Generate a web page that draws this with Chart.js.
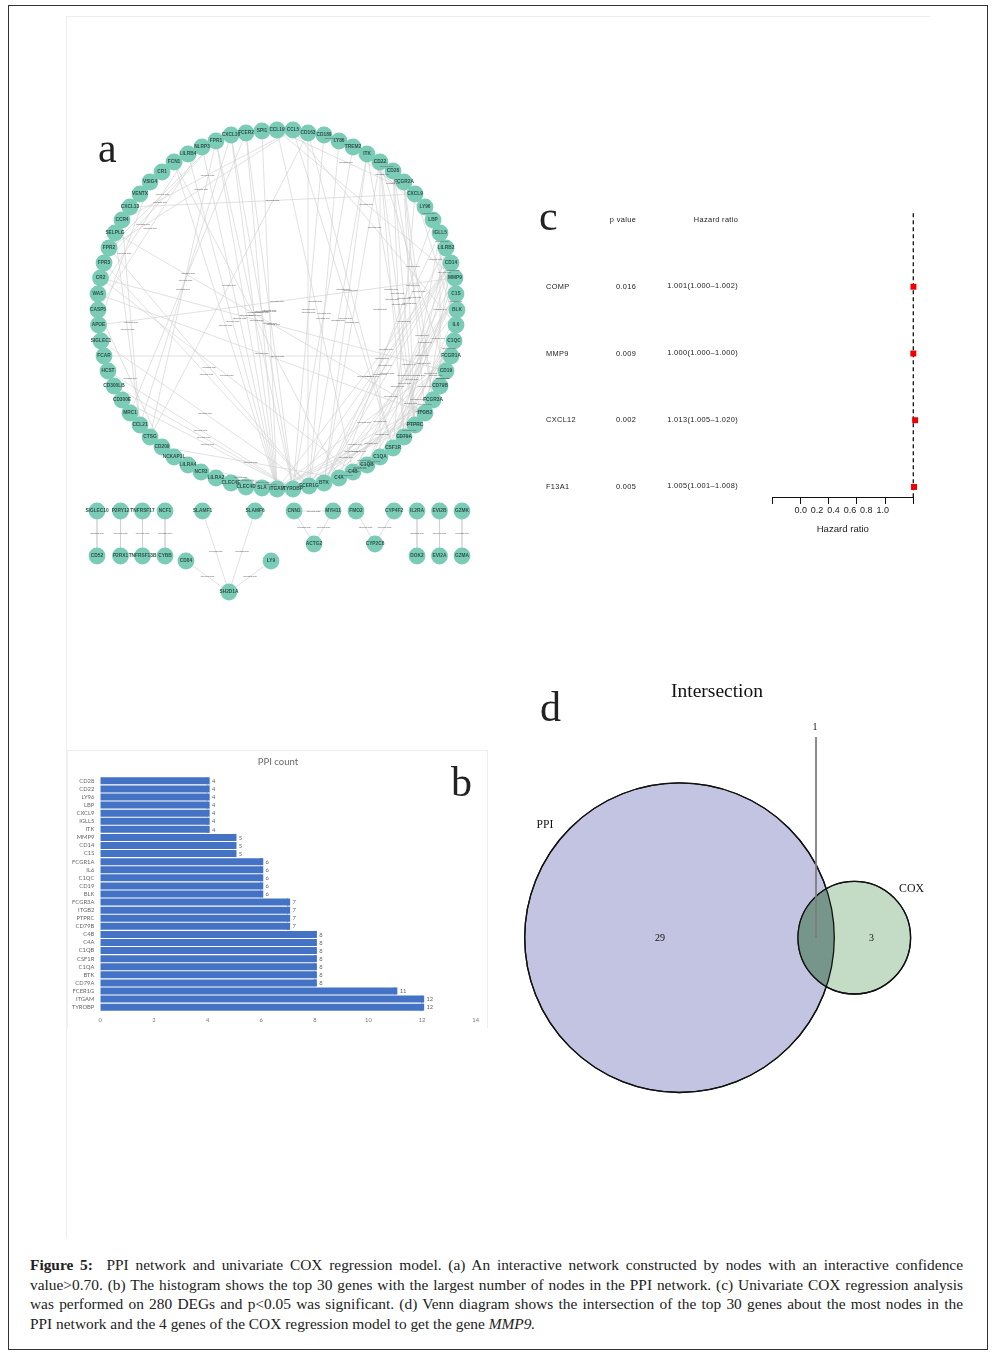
<!DOCTYPE html>
<html><head><meta charset="utf-8">
<script src="https://cdn.jsdelivr.net/npm/chart.js@4"></script>
<style>
html,body{margin:0;padding:0;background:#fff}
#page{position:relative;width:998px;height:1358px;overflow:hidden;background:#fff}
.frame{position:absolute;left:8px;top:5px;width:980px;height:1345px;border:1px solid #333;box-sizing:border-box}
.rule{position:absolute;background:#eeeeee}
canvas{position:absolute;display:block}
.letter{position:absolute;font-family:"Liberation Serif",serif;font-size:42px;line-height:42px;color:#222;font-weight:400}
#caption{position:absolute;left:30px;top:1255px;width:933px;font-family:"Liberation Serif",serif;font-size:15.4px;line-height:19.6px;color:#222}
#caption div{text-align:justify;text-align-last:justify;white-space:nowrap}
#caption div.last{text-align-last:left}
#bbox{position:absolute;left:67px;top:750px;width:421px;height:278px;border:1px solid #efefef;border-bottom:none;box-sizing:border-box}
</style></head>
<body><div id="page">
<div class="frame"></div>
<div class="rule" style="left:66px;top:16px;width:1px;height:1222px"></div>
<div class="rule" style="left:66px;top:16px;width:864px;height:1px"></div>
<div id="bbox"></div>
<canvas id="net" width="434" height="520" style="left:66px;top:100px;filter:blur(.3px)"></canvas>
<canvas id="bars" width="421" height="280" style="left:67px;top:750px;filter:blur(.3px)"></canvas>
<canvas id="forest" width="400" height="335" style="left:530px;top:205px"></canvas>
<canvas id="venn" width="430" height="430" style="left:510px;top:670px"></canvas>
<div class="letter" style="left:98px;top:127px">a</div>
<div class="letter" style="left:451px;top:761px">b</div>
<div class="letter" style="left:539px;top:195px">c</div>
<div class="letter" style="left:540px;top:686px">d</div>
<div id="caption">
<div><b>Figure 5:</b>&nbsp; PPI network and univariate COX regression model. (a) An interactive network constructed by nodes with an interactive confidence</div>
<div>value&gt;0.70. (b) The histogram shows the top 30 genes with the largest number of nodes in the PPI network. (c) Univariate COX regression analysis</div>
<div>was performed on 280 DEGs and p&lt;0.05 was significant. (d) Venn diagram shows the intersection of the top 30 genes about the most nodes in the</div>
<div class="last">PPI network and the 4 genes of the COX regression model to get the gene <i>MMP9.</i></div>
</div>
</div>
<script>
/* ---------- panel a: network ---------- */
const ringNames=["CCL19","CCL5","CD163","CD180","LY86","TREM2","ITK","CD22","CD28","FCGR2A","CXCL9","LY96","LBP","IGLL5","LILRB2","CD14","MMP9","C1S","BLK","IL6","C1QC","FCGR1A","CD19","CD79B","FCGR3A","ITGB2","PTPRC","CD79A","CSF1R","C1QA","C1QB","C4B","C4A","BTK","FCER1G","TYROBP","ITGAM","SLA","CLEC4D","CLEC4E","LILRA2","NCR3","LILRA4","NCKAP1L","CD209","CTSG","CCL21","MRC1","CD300E","CD300LB","HCST","FCAR","SIGLEC1","APOE","CASP5","WAS","CR2","FPR3","FPR2","SELPLG","CCR4","CXCL13","VENTX","VSIG4","CR1","FCN1","LILRB4","NLRP3","FPR1","CXCL10","FCER2","SPI1"];
const ringX=[277,293,308,324,339,353,367,380,393,404,415,425,433,440,446,451,455,456,457,456,454,451,446,440,433,425,415,404,393,380,367,353,339,324,309,293,277,262,246,231,216,201,188,174,162,150,140,130,122,114,108,104,101,98.5,98,98,100.5,104,109,115,122,130,140,150,162,174,188,202,216,231,246,262];
const ringY=[130,130,133,135,141,147,154,162,171,182,194,207,220,233,248,263,278,294,310,325,341,356,371,386,400,413,425,437,448,457,465,472,478,483,486,489,489,488,487,483,478,472,465,457,447,437,425,413,400,386,371,356,341,325,310,294,278,263,248,233,220,207,194,182,172,162,154,147,141,135,133,131];
const sideNames=["SIGLEC10","CD52","P2RY12","P2RX1","TNFRSF17","TNFRSF13B","NCF1","CYBB","SLAMF1","SLAMF6","CD84","LY9","SH2D1A","CNN1","MYH11","ACTG2","FMO2","CYP4F2","CYP2C8","IL2RA","DOK2","EVI2B","EVI2A","GZMK","GZMA"];
const sideX=[97,97,120.5,120.5,142.5,142.5,165,165,202.5,255,186,271,229,294,333,314,356,394,375,417,417,439.5,439.5,462,462];
const sideY=[511,556,511,556,511,556,511,556,511,511,561,561,592,511,511,544,511,511,544,511,556,511,556,511,556];
const edges=[
"SIGLEC10|CD52","P2RY12|P2RX1","TNFRSF17|TNFRSF13B","NCF1|CYBB","SLAMF1|SH2D1A","SLAMF6|SH2D1A","CD84|SH2D1A","LY9|SH2D1A","CNN1|MYH11","CNN1|ACTG2","MYH11|ACTG2","FMO2|CYP2C8","CYP4F2|CYP2C8","IL2RA|DOK2","EVI2B|EVI2A","GZMK|GZMA",
"ITGAM|SPI1","ITGAM|FCER2","ITGAM|CXCL10","ITGAM|FPR1","ITGAM|NLRP3","ITGAM|LILRB4","ITGAM|FCN1","ITGAM|ITGB2","ITGAM|CD14","ITGAM|FCGR3A","ITGAM|FCGR1A","ITGAM|PTPRC",
"TYROBP|FPR1","TYROBP|CXCL10","TYROBP|FCER2","TYROBP|HCST","TYROBP|CD300LB","TYROBP|CD300E","TYROBP|NCR3","TYROBP|LILRA4","TYROBP|TREM2","TYROBP|CD180","TYROBP|CD14","TYROBP|ITGB2",
"FCER1G|CLEC4E","FCER1G|CLEC4D","FCER1G|LILRA2","FCER1G|FPR2","FCER1G|FPR3","FCER1G|SIGLEC1","FCER1G|CD14","FCER1G|LY86","FCER1G|FCGR3A","FCER1G|FCGR1A","FCER1G|CD163","FCER1G|ITK",
"CD79A|CD79B","CD79A|BLK","CD79A|BTK","CD79A|CD19","CD79A|IGLL5","CD79A|CD22","CD79A|LILRB2","CD79A|CD28","CD79B|BLK","CD79B|CD19","CD79B|IGLL5","CD79B|BTK","CD19|CR2","CD19|CD22","BLK|BTK","BTK|ITK","BTK|LILRB2","BTK|CD22","BTK|IGLL5","BTK|CD14",
"C1QA|C1QB","C1QA|C1QC","C1QA|C4A","C1QA|C4B","C1QA|C1S","C1QA|CD22","C1QB|C1QC","C1QB|C4A","C1QB|C4B","C1QB|C1S","C1QB|CD14","C4A|C4B","C4A|C1S","C4A|FCN1","C4A|CD209","C4A|LBP","C4B|C1S","C4B|CR2","C4B|CCL19","C4B|MMP9",
"CSF1R|CD14","CSF1R|IL6","CSF1R|PTPRC","CSF1R|ITGB2","CSF1R|FCGR3A","CSF1R|CCL5","CSF1R|CD163","CSF1R|MMP9","CSF1R|CXCL9",
"PTPRC|CD22","PTPRC|ITK","PTPRC|CD28","PTPRC|IL6","PTPRC|FCGR2A","ITGB2|FCGR2A","ITGB2|WAS","ITGB2|SELPLG","ITGB2|CD14","FCGR3A|FCGR1A","FCGR3A|FCGR2A","FCGR3A|CD28",
"IL6|CCL5","IL6|CXCL9","IL6|MMP9","IL6|LBP","MMP9|CD14","MMP9|APOE","MMP9|CCL19","LBP|LY96","LBP|CD14","LBP|TREM2","LY96|LY86","LY86|CD180","CD28|ITK","CD28|CD22",
"CXCL9|CXCL13","CXCL9|CCL19","CCL21|CCR4","CCL5|CCR4","CCL21|CXCL10","FPR1|FPR2","FPR1|FPR3","FPR2|CCL5","FCAR|FCGR1A","SELPLG|CCL21","WAS|LILRB4","APOE|VSIG4","CASP5|NLRP3","CTSG|FPR1","MRC1|FCER2","CD163|CTSG","CASP5|CD209"];

/* ---------- panel b: bars ---------- */
const geneLabels=["CD28","CD22","LY96","LBP","CXCL9","IGLL5","ITK","MMP9","CD14","C1S","FCGR1A","IL6","C1QC","CD19","BLK","FCGR3A","ITGB2","PTPRC","CD79B","C4B","C4A","C1QB","CSF1R","C1QA","BTK","CD79A","FCER1G","ITGAM","TYROBP"];
const ppiCounts=[4,4,4,4,4,4,4,5,5,5,6,6,6,6,6,7,7,7,7,8,8,8,8,8,8,8,11,12,12];

/* ---------- panel c: forest ---------- */
const coxGenes=["COMP","MMP9","CXCL12","F13A1"];
const coxP=["0.016","0.009","0.002","0.005"];
const coxHRText=["1.001(1.000\u20131.002)","1.000(1.000\u20131.000)","1.013(1.005\u20131.020)","1.005(1.001\u20131.008)"];
const coxHR=[1.001,1.000,1.013,1.005];
const coxRow=[3,2,1,0];
const axisTicks=[0,0.2,0.4,0.6,0.8,1.0];

/* ---------- panel d: venn ---------- */
const vennNames=["PPI","COX"];
const vennOnly=[29,3];
const vennBoth=[1];

const allNames=ringNames.concat(sideNames), allX=ringX.concat(sideX), allY=ringY.concat(sideY);
const idx=n=>allNames.indexOf(n);
const edgeLine=[], edgeMid=[];
edges.forEach(e=>{const [a,b]=e.split("|").map(idx);
  edgeLine.push({x:allX[a],y:allY[a]},{x:allX[b],y:allY[b]},{x:null,y:null});
  edgeMid.push({x:(allX[a]+allX[b])/2,y:(allY[a]+allY[b])/2});});
const nodePts=allNames.map((n,i)=>({x:allX[i],y:allY[i]}));

const hiddenAxis=(min,max,rev)=>({type:"linear",display:false,min,max,reverse:!!rev});
const common={responsive:false,animation:false,events:[],plugins:{legend:{display:false},tooltip:{enabled:false}},layout:{padding:0,autoPadding:false}};

new Chart(document.getElementById("net"),{
  type:"scatter",
  data:{datasets:[
    {data:nodePts,pointRadius:8.4,pointBackgroundColor:"#7accb7",pointBorderWidth:0,showLine:false,clip:false},
    {data:edgeLine,showLine:true,spanGaps:false,borderColor:"#d0d0d0",borderWidth:.65,pointRadius:0}
  ]},
  options:{...common,scales:{x:hiddenAxis(66,500),y:hiddenAxis(100,620,true)}},
  plugins:[{id:"netText",
    afterDatasetsDraw(c){const g=c.ctx,X=c.scales.x,Y=c.scales.y;g.save();g.textAlign="center";g.textBaseline="middle";
      g.font="2.3px 'Liberation Sans'";g.fillStyle="#555";
      edgeMid.forEach(m=>g.fillText("interacts with",X.getPixelForValue(m.x),Y.getPixelForValue(m.y)));
      g.font="bold 4.8px 'Liberation Sans'";g.fillStyle="#2f5249";
      allNames.forEach((n,i)=>g.fillText(n,X.getPixelForValue(allX[i]),Y.getPixelForValue(allY[i])));
      g.restore();}}]
});

new Chart(document.getElementById("bars"),{
  type:"bar",
  data:{labels:geneLabels,datasets:[{data:ppiCounts,backgroundColor:"#4472c4",barPercentage:.87,categoryPercentage:1}]},
  options:{...common,indexAxis:"y",
    layout:{padding:{right:12.3,top:26.8},autoPadding:false},
    scales:{
      x:{type:"linear",min:0,max:14,grid:{display:false,drawTicks:false},border:{display:false},
         ticks:{stepSize:2,color:"#777",font:{family:"Lato",size:5.8},padding:5,maxRotation:0},
         afterFit(s){s.height=18.8;}},
      y:{type:"category",grid:{display:false,drawTicks:false},border:{display:false},
         ticks:{autoSkip:false,color:"#666",font:{family:"Lato",size:5.8},padding:6},
         afterFit(s){s.width=33.3;}}
    }},
  plugins:[{id:"barVals",afterDatasetsDraw(c){const g=c.ctx,m=c.getDatasetMeta(0);g.save();
    g.fillStyle="#4472c4";
    m.data.forEach(b=>g.fillRect(b.x-1,b.y-b.height/2,3.1,b.height));
    g.font="5.8px Lato";g.fillStyle="#666";g.textBaseline="middle";
    m.data.forEach((b,i)=>g.fillText(ppiCounts[i],b.x+4.4,b.y+.3));
    g.font="9.5px Lato";g.fillStyle="#6a6a6a";g.textAlign="center";g.fillText("PPI count",211,11.8);
    g.restore();}}]
});

new Chart(document.getElementById("forest"),{
  type:"scatter",
  data:{datasets:[
    {data:coxHR.map((v,i)=>({x:v,y:coxRow[i]})),pointStyle:"rect",pointRadius:4.2,pointBackgroundColor:"#f00000",pointBorderWidth:0,showLine:false,clip:false},
    {data:[{x:1,y:-0.155},{x:1,y:4.105}],showLine:true,borderColor:"#111",borderWidth:1.3,borderDash:[4,3],pointRadius:0,clip:false}
  ]},
  options:{...common,
    layout:{padding:{left:242.3,right:16.7,top:8},autoPadding:false},
    scales:{
      y:{type:"linear",display:false,min:-0.155,max:4.105},
      x:{type:"linear",position:"bottom",weight:0,min:0,max:1,grid:{display:true,drawOnChartArea:false,drawTicks:true,tickLength:6.7,tickColor:"#111",tickWidth:1},
         border:{display:true,color:"#111",width:1},
         ticks:{display:false},
         afterBuildTicks(s){s.ticks=axisTicks.map(v=>({value:v}));},
         afterFit(s){s.height=7;}},
      x2:{type:"linear",position:"bottom",weight:1,min:-0.346,max:1.373,grid:{display:false,drawTicks:false},border:{display:false},
         ticks:{color:"#222",font:{family:"Liberation Sans",size:9},padding:1,maxRotation:0,autoSkip:false,callback:v=>v.toFixed(1)},
         afterBuildTicks(s){s.ticks=axisTicks.map(v=>({value:v}));},
         title:{display:true,text:"Hazard ratio",color:"#222",font:{family:"Liberation Sans",size:9.6},padding:{top:7,bottom:5}},
         afterFit(s){s.height=35.7;}}
    }},
  plugins:[{id:"forestText",afterDatasetsDraw(c){const g=c.ctx,Y=c.scales.y;g.save();
    g.font="7.4px 'Liberation Sans'";g.fillStyle="#222";g.textBaseline="middle";g.letterSpacing="0.35px";
    const hy=Y.getPixelForValue(4);
    g.textAlign="center";g.fillText("p value",93,hy);g.fillText("Hazard ratio",186,hy);
    coxGenes.forEach((n,i)=>{const y=Y.getPixelForValue(coxRow[i]);
      g.textAlign="left";g.fillText(n,16,y);
      g.textAlign="center";g.fillText(coxP[i],96,y);
      g.textAlign="right";g.fillText(coxHRText[i],208,y-.5);});
    g.restore();}}]
});

new Chart(document.getElementById("venn"),{
  type:"bubble",
  data:{datasets:[
    {type:"scatter",data:[{x:816,y:737},{x:816,y:938}],showLine:true,borderColor:"#7d7d7d",borderWidth:1,pointRadius:0},
    {data:[{x:854.3,y:937.7,r:56.3}],backgroundColor:"#c4dcc6",borderColor:"#111",borderWidth:1.3,clip:false},
    {data:[{x:679.5,y:937.7,r:154.8}],backgroundColor:"#c3c3e2",borderColor:"#111",borderWidth:1.3,clip:false}
  ]},
  options:{...common,scales:{x:hiddenAxis(510,940),y:hiddenAxis(670,1100,true)}},
  plugins:[{id:"vennOverlap",
    afterDatasetDraw(c,a){ if(a.index!==1) return;
      const g=c.ctx,P=c.getDatasetMeta(2).data[0],Q=c.getDatasetMeta(1).data[0];
      const rP=c.data.datasets[2].data[0].r,rQ=c.data.datasets[1].data[0].r;
      g.save();g.beginPath();g.arc(P.x,P.y,rP,0,7);g.clip();g.beginPath();g.arc(Q.x,Q.y,rQ,0,7);g.fillStyle="#76968c";g.fill();g.restore();
      g.save();g.strokeStyle="#111";g.lineWidth=1.3;
      g.beginPath();g.arc(P.x,P.y,rP,0,7);g.stroke();g.beginPath();g.arc(Q.x,Q.y,rQ,0,7);g.stroke();g.restore();},
    afterDatasetsDraw(c){const g=c.ctx,X=c.scales.x,Y=c.scales.y;const t=(s,x,y,f)=>{g.font=f+"px 'Liberation Serif'";g.fillText(s,X.getPixelForValue(x),Y.getPixelForValue(y));};
      g.save();g.fillStyle="#111";g.textAlign="center";g.textBaseline="middle";
      t("Intersection",717,692,19.5);
      t(String(vennBoth[0]),815,727,10);
      t(String(vennOnly[0]),660,938,10);
      t(String(vennOnly[1]),871.5,938,10);
      t(vennNames[0],545,825,11.6);
      t(vennNames[1],911.5,888.5,11.8);
      g.restore();}}]
});
</script>
</body></html>
